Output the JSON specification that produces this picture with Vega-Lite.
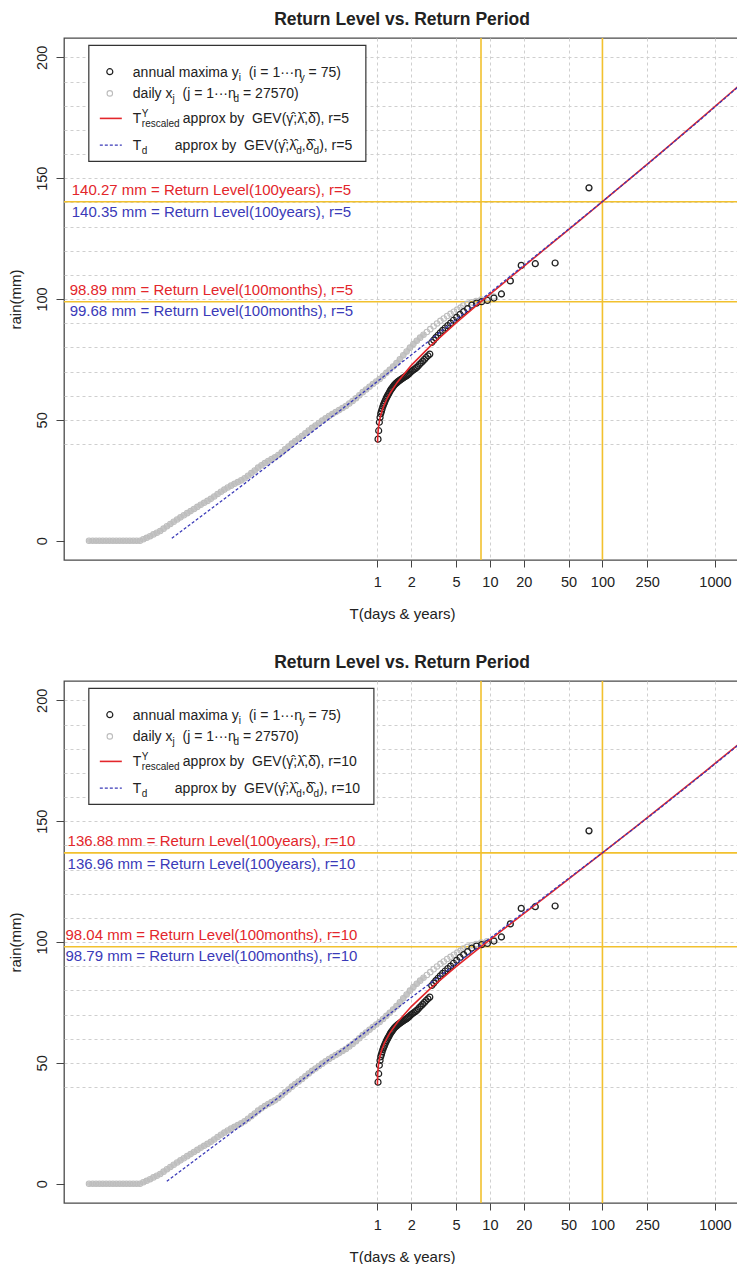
{
  "$schema": "https://vega.github.io/schema/vega-lite/v6.json",
  "background": "white",
  "padding": {"left": 7, "top": 10, "right": 0, "bottom": 0},
  "config": {
    "font": "Liberation Sans",
    "view": {"stroke": "#4a4a4a", "strokeWidth": 1.3},
    "axis": {"labelFont": "Liberation Sans", "titleFont": "Liberation Sans", "labelColor": "#222", "titleColor": "#222", "titleFontWeight": "normal", "domain": false, "tickColor": "#444", "labelFontSize": 14.5, "titleFontSize": 15},
    "title": {"font": "Liberation Sans", "fontSize": 17.5, "fontWeight": "bold", "color": "#222", "anchor": "middle", "frame": "group", "offset": 9, "baseline": "alphabetic"},
    "text": {"font": "Liberation Sans"}
  },
  "datasets": {
    "daily": [
      {"T": 0.002738, "rain": 0}, {"T": 0.002951, "rain": 0}, {"T": 0.003162, "rain": 0}, {"T": 0.003388, "rain": 0},
      {"T": 0.003631, "rain": 0}, {"T": 0.00389, "rain": 0}, {"T": 0.004169, "rain": 0}, {"T": 0.004467, "rain": 0},
      {"T": 0.004786, "rain": 0}, {"T": 0.005129, "rain": 0}, {"T": 0.005495, "rain": 0}, {"T": 0.005888, "rain": 0},
      {"T": 0.00631, "rain": 0}, {"T": 0.006761, "rain": 0}, {"T": 0.007244, "rain": 0}, {"T": 0.007762, "rain": 0},
      {"T": 0.008318, "rain": 0.56}, {"T": 0.008913, "rain": 1.18}, {"T": 0.00955, "rain": 1.86}, {"T": 0.010233, "rain": 2.6},
      {"T": 0.010965, "rain": 3.3}, {"T": 0.011749, "rain": 4.01}, {"T": 0.012589, "rain": 4.98}, {"T": 0.01349, "rain": 5.95},
      {"T": 0.014454, "rain": 6.89}, {"T": 0.015488, "rain": 7.83}, {"T": 0.016596, "rain": 8.77}, {"T": 0.017783, "rain": 9.65},
      {"T": 0.019055, "rain": 10.54}, {"T": 0.020417, "rain": 11.39}, {"T": 0.021878, "rain": 12.24}, {"T": 0.023442, "rain": 13.1},
      {"T": 0.025119, "rain": 13.98}, {"T": 0.026915, "rain": 14.87}, {"T": 0.02884, "rain": 15.66}, {"T": 0.030903, "rain": 16.45},
      {"T": 0.033113, "rain": 17.3}, {"T": 0.035481, "rain": 18.31}, {"T": 0.038019, "rain": 19.33}, {"T": 0.040738, "rain": 20.23},
      {"T": 0.043652, "rain": 21.13}, {"T": 0.046774, "rain": 22.0}, {"T": 0.050119, "rain": 22.76}, {"T": 0.053703, "rain": 23.52},
      {"T": 0.057544, "rain": 24.24}, {"T": 0.06166, "rain": 24.95}, {"T": 0.066069, "rain": 25.84}, {"T": 0.070795, "rain": 26.89},
      {"T": 0.075858, "rain": 27.94}, {"T": 0.081283, "rain": 29.07}, {"T": 0.087096, "rain": 30.21}, {"T": 0.093325, "rain": 31.23},
      {"T": 0.1, "rain": 32.11}, {"T": 0.10715, "rain": 32.98}, {"T": 0.11482, "rain": 33.73}, {"T": 0.12303, "rain": 34.48},
      {"T": 0.13183, "rain": 35.43}, {"T": 0.14125, "rain": 36.61}, {"T": 0.15136, "rain": 37.79}, {"T": 0.16218, "rain": 38.97},
      {"T": 0.17378, "rain": 40.15}, {"T": 0.18621, "rain": 41.24}, {"T": 0.19953, "rain": 42.29}, {"T": 0.2138, "rain": 43.34},
      {"T": 0.22909, "rain": 44.48}, {"T": 0.24547, "rain": 45.62}, {"T": 0.26303, "rain": 46.68}, {"T": 0.28184, "rain": 47.69},
      {"T": 0.302, "rain": 48.7}, {"T": 0.32359, "rain": 49.67}, {"T": 0.34674, "rain": 50.61}, {"T": 0.37154, "rain": 51.56},
      {"T": 0.39811, "rain": 52.4}, {"T": 0.42658, "rain": 53.21}, {"T": 0.45709, "rain": 54.02}, {"T": 0.48978, "rain": 54.88},
      {"T": 0.52481, "rain": 55.74}, {"T": 0.56234, "rain": 56.74}, {"T": 0.60256, "rain": 57.8}, {"T": 0.64565, "rain": 58.92},
      {"T": 0.69183, "rain": 60.19}, {"T": 0.74131, "rain": 61.45}, {"T": 0.79433, "rain": 62.58}, {"T": 0.85114, "rain": 63.71},
      {"T": 0.91201, "rain": 64.81}, {"T": 0.97724, "rain": 65.87}, {"T": 1.0471, "rain": 66.92}, {"T": 1.122, "rain": 68.17},
      {"T": 1.2023, "rain": 69.44}, {"T": 1.2882, "rain": 70.75}, {"T": 1.3804, "rain": 72.1}, {"T": 1.4791, "rain": 73.45},
      {"T": 1.5849, "rain": 75.06}, {"T": 1.6982, "rain": 76.71}, {"T": 1.8197, "rain": 78.31}, {"T": 1.9498, "rain": 79.87},
      {"T": 2.0893, "rain": 81.39}, {"T": 2.2387, "rain": 82.7}, {"T": 2.3988, "rain": 84.01}, {"T": 2.5704, "rain": 85.2},
      {"T": 2.7542, "rain": 86.37}, {"T": 2.9512, "rain": 87.53}, {"T": 3.1623, "rain": 88.71}, {"T": 3.3884, "rain": 89.89},
      {"T": 3.6308, "rain": 90.95}, {"T": 3.8905, "rain": 91.96}, {"T": 4.1687, "rain": 92.97}, {"T": 4.4668, "rain": 93.85},
      {"T": 4.7863, "rain": 94.74}, {"T": 5.1286, "rain": 95.59}, {"T": 5.4954, "rain": 96.44}, {"T": 5.806, "rain": 97.3},
      {"T": 6.29, "rain": 98.0}, {"T": 6.86, "rain": 98.6}, {"T": 7.548, "rain": 99.2}, {"T": 8.387, "rain": 99.8},
      {"T": 9.43, "rain": 100.3}, {"T": 10.78, "rain": 101.0}, {"T": 12.58, "rain": 102.0}, {"T": 15.1, "rain": 107.5},
      {"T": 18.87, "rain": 114.0}, {"T": 25.16, "rain": 114.6}, {"T": 37.74, "rain": 114.9}, {"T": 75.48, "rain": 146.0}
    ],
    "annual": [
      {"T": 76, "rain": 146.0}, {"T": 38, "rain": 114.9}, {"T": 25.333, "rain": 114.6}, {"T": 19, "rain": 113.9},
      {"T": 15.2, "rain": 107.5}, {"T": 12.667, "rain": 102.1}, {"T": 10.857, "rain": 100.4}, {"T": 9.5, "rain": 99.4},
      {"T": 8.444, "rain": 98.9}, {"T": 7.6, "rain": 98.3}, {"T": 6.909, "rain": 97.5}, {"T": 6.333, "rain": 96.0},
      {"T": 5.846, "rain": 94.8}, {"T": 5.429, "rain": 93.6}, {"T": 5.067, "rain": 92.4}, {"T": 4.75, "rain": 91.2},
      {"T": 4.471, "rain": 90.0}, {"T": 4.222, "rain": 89.0}, {"T": 4.0, "rain": 88.0}, {"T": 3.8, "rain": 87.0},
      {"T": 3.619, "rain": 86.0}, {"T": 3.455, "rain": 85.0}, {"T": 3.304, "rain": 84.0}, {"T": 3.167, "rain": 83.0},
      {"T": 3.04, "rain": 82.0}, {"T": 2.923, "rain": 77.2}, {"T": 2.815, "rain": 76.5}, {"T": 2.714, "rain": 75.8},
      {"T": 2.621, "rain": 75.0}, {"T": 2.533, "rain": 74.3}, {"T": 2.452, "rain": 73.6}, {"T": 2.375, "rain": 73.0},
      {"T": 2.303, "rain": 72.3}, {"T": 2.235, "rain": 71.7}, {"T": 2.171, "rain": 71.2}, {"T": 2.111, "rain": 70.8},
      {"T": 2.054, "rain": 70.4}, {"T": 2.0, "rain": 70.0}, {"T": 1.949, "rain": 69.5}, {"T": 1.9, "rain": 69.0},
      {"T": 1.854, "rain": 68.6}, {"T": 1.81, "rain": 68.2}, {"T": 1.767, "rain": 67.9}, {"T": 1.727, "rain": 67.6},
      {"T": 1.689, "rain": 67.3}, {"T": 1.652, "rain": 67.0}, {"T": 1.617, "rain": 66.7}, {"T": 1.583, "rain": 66.4},
      {"T": 1.551, "rain": 66.1}, {"T": 1.52, "rain": 65.8}, {"T": 1.49, "rain": 65.4}, {"T": 1.462, "rain": 65.1},
      {"T": 1.434, "rain": 64.7}, {"T": 1.407, "rain": 64.3}, {"T": 1.382, "rain": 63.8}, {"T": 1.357, "rain": 63.3},
      {"T": 1.333, "rain": 62.8}, {"T": 1.31, "rain": 62.3}, {"T": 1.288, "rain": 61.7}, {"T": 1.267, "rain": 61.0},
      {"T": 1.246, "rain": 60.5}, {"T": 1.226, "rain": 59.8}, {"T": 1.206, "rain": 59.2}, {"T": 1.1875, "rain": 58.5},
      {"T": 1.169, "rain": 57.8}, {"T": 1.152, "rain": 57.0}, {"T": 1.134, "rain": 56.3}, {"T": 1.118, "rain": 55.5},
      {"T": 1.101, "rain": 54.5}, {"T": 1.086, "rain": 53.5}, {"T": 1.07, "rain": 52.5}, {"T": 1.056, "rain": 51.0},
      {"T": 1.041, "rain": 49.0}, {"T": 1.027, "rain": 45.5}, {"T": 1.0133, "rain": 42.0}
    ],
    "redTop": [
      {"T": 1.003, "rain": 40.6}, {"T": 1.01, "rain": 44.0}, {"T": 1.02, "rain": 46.4}, {"T": 1.03, "rain": 47.95},
      {"T": 1.05, "rain": 50.17}, {"T": 1.07, "rain": 51.82}, {"T": 1.1, "rain": 53.73}, {"T": 1.15, "rain": 56.18},
      {"T": 1.2, "rain": 58.11}, {"T": 1.3, "rain": 61.13}, {"T": 1.5, "rain": 65.5}, {"T": 2, "rain": 72.53},
      {"T": 3, "rain": 80.79}, {"T": 5, "rain": 90.11}, {"T": 8.333, "rain": 98.89}, {"T": 12, "rain": 105.02},
      {"T": 20, "rain": 113.51}, {"T": 35, "rain": 122.78}, {"T": 60, "rain": 131.73}, {"T": 100, "rain": 140.27},
      {"T": 200, "rain": 151.96}, {"T": 400, "rain": 163.79}, {"T": 800, "rain": 175.78}, {"T": 1500, "rain": 186.79},
      {"T": 2000, "rain": 191.87}
    ],
    "blueTop": [
      {"T": 0.0149, "rain": 1.0}, {"T": 0.02643, "rain": 9.66}, {"T": 0.07356, "rain": 25.27}, {"T": 0.2047, "rain": 41.05},
      {"T": 0.5695, "rain": 57.01}, {"T": 1.585, "rain": 73.15}, {"T": 4.411, "rain": 89.47}, {"T": 8.333, "rain": 99.68},
      {"T": 12.27, "rain": 105.97}, {"T": 34.15, "rain": 122.65}, {"T": 100, "rain": 140.35}, {"T": 264.4, "rain": 156.6},
      {"T": 735.6, "rain": 174.1}, {"T": 2000, "rain": 191.6}
    ],
    "redBottom": [
      {"T": 1.001, "rain": 40.94}, {"T": 1.003, "rain": 43.32}, {"T": 1.01, "rain": 46.51}, {"T": 1.02, "rain": 48.73},
      {"T": 1.03, "rain": 50.21}, {"T": 1.05, "rain": 52.3}, {"T": 1.07, "rain": 53.84}, {"T": 1.1, "rain": 55.64},
      {"T": 1.15, "rain": 57.93}, {"T": 1.2, "rain": 59.74}, {"T": 1.3, "rain": 62.58}, {"T": 1.5, "rain": 66.69},
      {"T": 2, "rain": 73.29}, {"T": 3, "rain": 81.05}, {"T": 5, "rain": 89.79}, {"T": 8.333, "rain": 98.04},
      {"T": 12, "rain": 103.79}, {"T": 20, "rain": 111.76}, {"T": 35, "rain": 120.47}, {"T": 60, "rain": 128.87},
      {"T": 100, "rain": 136.88}, {"T": 200, "rain": 147.86}, {"T": 400, "rain": 158.97}, {"T": 800, "rain": 170.23},
      {"T": 1500, "rain": 180.56}, {"T": 2000, "rain": 185.34}
    ],
    "blueBottom": [
      {"T": 0.01345, "rain": 1.0}, {"T": 0.02643, "rain": 11.22}, {"T": 0.07356, "rain": 26.73}, {"T": 0.2047, "rain": 42.27},
      {"T": 0.5695, "rain": 57.84}, {"T": 1.585, "rain": 73.45}, {"T": 4.411, "rain": 89.08}, {"T": 8.333, "rain": 98.79},
      {"T": 12.27, "rain": 104.74}, {"T": 34.15, "rain": 120.45}, {"T": 100, "rain": 136.96}, {"T": 264.4, "rain": 152.1},
      {"T": 735.6, "rain": 168.6}, {"T": 2000, "rain": 185.0}
    ],
    "levelsTop": [
      {"T": 100, "red": 140.27, "blue": 140.35, "redLabel": "140.27 mm = Return Level(100years), r=5", "blueLabel": "140.35 mm = Return Level(100years), r=5"},
      {"T": 8.333, "red": 98.89, "blue": 99.68, "redLabel": "98.89 mm = Return Level(100months), r=5", "blueLabel": "99.68 mm = Return Level(100months), r=5"}
    ],
    "levelsBottom": [
      {"T": 100, "red": 136.88, "blue": 136.96, "redLabel": "136.88 mm = Return Level(100years), r=10", "blueLabel": "136.96 mm = Return Level(100years), r=10"},
      {"T": 8.333, "red": 98.04, "blue": 98.79, "redLabel": "98.04 mm = Return Level(100months), r=10", "blueLabel": "98.79 mm = Return Level(100months), r=10"}
    ]
  },
  "spacing": 30,
  "vconcat": [
    {
      "width": 676,
      "height": 522,
      "title": {"text": "Return Level vs. Return Period"},
      "resolve": {"axis": {"y": "independent"}},
      "layer": [
        {
          "data": {"name": "levelsTop"},
          "mark": {"type": "rule", "color": "#f2c12e", "strokeWidth": 1.6},
          "encoding": {"y": {"field": "red", "type": "quantitative", "axis": {"orient": "left", "values": [40, 50, 60, 70, 80, 90, 100, 110, 120, 130, 140, 150, 160, 170, 180, 190, 200], "grid": true, "gridDash": [3, 3], "gridColor": "#cfcfcf", "labels": false, "ticks": false, "domain": false, "title": null}}}
        },
        {
          "layer": [
            {
              "data": {"name": "levelsTop"},
              "mark": {"type": "rule", "color": "#f2c12e", "strokeWidth": 1.6},
              "encoding": {"x": {"field": "T", "type": "quantitative"}}
            },
            {
              "data": {"name": "daily"},
              "transform": [{"filter": "datum.T < 2.6"}],
              "mark": {"type": "line", "color": "#c6c6c6", "strokeWidth": 4.5, "strokeCap": "round", "strokeJoin": "round"},
              "encoding": {"x": {"field": "T", "type": "quantitative"}, "y": {"field": "rain", "type": "quantitative"}}
            },
            {
              "data": {"name": "daily"},
              "mark": {"type": "point", "filled": false, "size": 30, "strokeWidth": 1.1, "color": "#bdbdbd", "opacity": 1},
              "encoding": {
                "x": {
                  "field": "T", "type": "quantitative",
                  "scale": {"type": "log", "domain": [0.001641, 1669], "nice": false},
                  "axis": {"title": "T(days & years)", "values": [1, 2, 5, 10, 20, 50, 100, 250, 1000], "format": "d", "grid": true, "gridDash": [3, 3], "gridColor": "#cfcfcf", "gridWidth": 1, "tickSize": 7, "tickWidth": 1, "labelPadding": 8, "titlePadding": 18, "labelFlush": false, "labelOverlap": false}
                },
                "y": {
                  "field": "rain", "type": "quantitative",
                  "scale": {"domain": [-8, 208], "nice": false, "zero": false},
                  "axis": {"orient": "left", "title": "rain(mm)", "values": [0, 50, 100, 150, 200], "grid": false, "tickSize": 8, "labelAngle": -90, "labelAlign": "center", "labelBaseline": "alphabetic", "labelPadding": 10, "titlePadding": 11, "labelOverlap": false}
                }
              }
            },
            {
              "data": {"name": "annual"},
              "mark": {"type": "point", "filled": false, "size": 36, "strokeWidth": 1.2, "color": "#1e1e1e", "opacity": 1},
              "encoding": {"x": {"field": "T", "type": "quantitative"}, "y": {"field": "rain", "type": "quantitative"}}
            },
            {
              "data": {"name": "redTop"},
              "mark": {"type": "line", "color": "#e3262b", "strokeWidth": 1.6, "clip": true},
              "encoding": {"x": {"field": "T", "type": "quantitative"}, "y": {"field": "rain", "type": "quantitative"}}
            },
            {
              "data": {"name": "blueTop"},
              "mark": {"type": "line", "color": "#3a3ab8", "strokeWidth": 1.3, "strokeDash": [3, 2], "clip": true},
              "encoding": {"x": {"field": "T", "type": "quantitative"}, "y": {"field": "rain", "type": "quantitative"}}
            },
            {
              "data": {"name": "levelsTop"},
              "mark": {"type": "text", "align": "center", "baseline": "middle", "dy": -12, "fontSize": 15, "color": "#e3262b"},
              "encoding": {"x": {"datum": 0.0335}, "y": {"field": "red", "type": "quantitative"}, "text": {"field": "redLabel"}}
            },
            {
              "data": {"name": "levelsTop"},
              "mark": {"type": "text", "align": "center", "baseline": "middle", "dy": 11, "fontSize": 15, "color": "#3a3ab8"},
              "encoding": {"x": {"datum": 0.0335}, "y": {"field": "blue", "type": "quantitative"}, "text": {"field": "blueLabel"}}
            },
            {"data": {"values": [{}]}, "mark": {"type": "rect", "fill": "white", "stroke": "#333", "strokeWidth": 1.2}, "encoding": {"x": {"datum": 0.002727}, "x2": {"datum": 0.79}, "y": {"datum": 204.94}, "y2": {"datum": 156.94}}},
            {"data": {"values": [{}]}, "mark": {"type": "point", "filled": false, "size": 36, "strokeWidth": 1.2, "color": "#1e1e1e", "opacity": 1}, "encoding": {"x": {"datum": 0.00419}, "y": {"datum": 194.06}}},
            {"data": {"values": [{}]}, "mark": {"type": "point", "filled": false, "size": 30, "strokeWidth": 1.1, "color": "#bdbdbd", "opacity": 1}, "encoding": {"x": {"datum": 0.00419}, "y": {"datum": 185.08}}},
            {"data": {"values": [{}]}, "mark": {"type": "rule", "color": "#e3262b", "strokeWidth": 1.6}, "encoding": {"x": {"datum": 0.003415}, "x2": {"datum": 0.005357}, "y": {"datum": 174.73}}},
            {"data": {"values": [{}]}, "mark": {"type": "rule", "color": "#3a3ab8", "strokeWidth": 1.3, "strokeDash": [3, 2]}, "encoding": {"x": {"datum": 0.003415}, "x2": {"datum": 0.005357}, "y": {"datum": 163.68}}},
            {"data": {"values": [{"label": "annual maxima y"}]}, "mark": {"type": "text", "align": "left", "baseline": "alphabetic", "fontSize": 14, "color": "#222"}, "encoding": {"x": {"datum": 0.006708}, "y": {"datum": 191.99}, "text": {"field": "label"}}},
            {"data": {"values": [{"label": "i"}]}, "mark": {"type": "text", "align": "left", "baseline": "alphabetic", "fontSize": 10, "dy": 4, "color": "#222"}, "encoding": {"x": {"datum": 0.0585}, "y": {"datum": 191.99}, "text": {"field": "label"}}},
            {"data": {"values": [{"label": "(i = 1···n"}]}, "mark": {"type": "text", "align": "left", "baseline": "alphabetic", "fontSize": 14, "color": "#222"}, "encoding": {"x": {"datum": 0.07178}, "y": {"datum": 191.99}, "text": {"field": "label"}}},
            {"data": {"values": [{"label": "y"}]}, "mark": {"type": "text", "align": "left", "baseline": "alphabetic", "fontSize": 10, "dy": 4, "color": "#222"}, "encoding": {"x": {"datum": 0.2038}, "y": {"datum": 191.99}, "text": {"field": "label"}}},
            {"data": {"values": [{"label": "= 75)"}]}, "mark": {"type": "text", "align": "left", "baseline": "alphabetic", "fontSize": 14, "color": "#222"}, "encoding": {"x": {"datum": 0.2446}, "y": {"datum": 191.99}, "text": {"field": "label"}}},
            {"data": {"values": [{"label": "daily x"}]}, "mark": {"type": "text", "align": "left", "baseline": "alphabetic", "fontSize": 14, "color": "#222"}, "encoding": {"x": {"datum": 0.006708}, "y": {"datum": 183.01}, "text": {"field": "label"}}},
            {"data": {"values": [{"label": "j"}]}, "mark": {"type": "text", "align": "left", "baseline": "alphabetic", "fontSize": 10, "dy": 4, "color": "#222"}, "encoding": {"x": {"datum": 0.01512}, "y": {"datum": 183.01}, "text": {"field": "label"}}},
            {"data": {"values": [{"label": "(j = 1···n"}]}, "mark": {"type": "text", "align": "left", "baseline": "alphabetic", "fontSize": 14, "color": "#222"}, "encoding": {"x": {"datum": 0.01855}, "y": {"datum": 183.01}, "text": {"field": "label"}}},
            {"data": {"values": [{"label": "d"}]}, "mark": {"type": "text", "align": "left", "baseline": "alphabetic", "fontSize": 10, "dy": 4, "color": "#222"}, "encoding": {"x": {"datum": 0.0527}, "y": {"datum": 183.01}, "text": {"field": "label"}}},
            {"data": {"values": [{"label": "= 27570)"}]}, "mark": {"type": "text", "align": "left", "baseline": "alphabetic", "fontSize": 14, "color": "#222"}, "encoding": {"x": {"datum": 0.064}, "y": {"datum": 183.01}, "text": {"field": "label"}}},
            {"data": {"values": [{"label": "T"}]}, "mark": {"type": "text", "align": "left", "baseline": "alphabetic", "fontSize": 14, "color": "#222"}, "encoding": {"x": {"datum": 0.006708}, "y": {"datum": 172.66}, "text": {"field": "label"}}},
            {"data": {"values": [{"label": "Y"}]}, "mark": {"type": "text", "align": "left", "baseline": "alphabetic", "fontSize": 10, "dy": -6, "color": "#222"}, "encoding": {"x": {"datum": 0.008067}, "y": {"datum": 172.66}, "text": {"field": "label"}}},
            {"data": {"values": [{"label": "rescaled"}]}, "mark": {"type": "text", "align": "left", "baseline": "alphabetic", "fontSize": 10, "dy": 4, "color": "#222"}, "encoding": {"x": {"datum": 0.008067}, "y": {"datum": 172.66}, "text": {"field": "label"}}},
            {"data": {"values": [{"label": "approx by\u00a0 GEV(γ̂;λ̂,δ̂), r=5"}]}, "mark": {"type": "text", "align": "left", "baseline": "alphabetic", "fontSize": 14, "color": "#222"}, "encoding": {"x": {"datum": 0.01867}, "y": {"datum": 172.66}, "text": {"field": "label"}}},
            {"data": {"values": [{"label": "T"}]}, "mark": {"type": "text", "align": "left", "baseline": "alphabetic", "fontSize": 14, "color": "#222"}, "encoding": {"x": {"datum": 0.006708}, "y": {"datum": 161.61}, "text": {"field": "label"}}},
            {"data": {"values": [{"label": "d"}]}, "mark": {"type": "text", "align": "left", "baseline": "alphabetic", "fontSize": 10, "dy": 4, "color": "#222"}, "encoding": {"x": {"datum": 0.008067}, "y": {"datum": 161.61}, "text": {"field": "label"}}},
            {"data": {"values": [{"label": "approx by\u00a0 GEV(γ̂;λ̂"}]}, "mark": {"type": "text", "align": "left", "baseline": "alphabetic", "fontSize": 14, "color": "#222"}, "encoding": {"x": {"datum": 0.01585}, "y": {"datum": 161.61}, "text": {"field": "label"}}},
            {"data": {"values": [{"label": "d"}]}, "mark": {"type": "text", "align": "left", "baseline": "alphabetic", "fontSize": 10, "dy": 4, "color": "#222"}, "encoding": {"x": {"datum": 0.1901}, "y": {"datum": 161.61}, "text": {"field": "label"}}},
            {"data": {"values": [{"label": ",δ̂"}]}, "mark": {"type": "text", "align": "left", "baseline": "alphabetic", "fontSize": 14, "color": "#222"}, "encoding": {"x": {"datum": 0.2132}, "y": {"datum": 161.61}, "text": {"field": "label"}}},
            {"data": {"values": [{"label": "d"}]}, "mark": {"type": "text", "align": "left", "baseline": "alphabetic", "fontSize": 10, "dy": 4, "color": "#222"}, "encoding": {"x": {"datum": 0.271}, "y": {"datum": 161.61}, "text": {"field": "label"}}},
            {"data": {"values": [{"label": "), r=5"}]}, "mark": {"type": "text", "align": "left", "baseline": "alphabetic", "fontSize": 14, "color": "#222"}, "encoding": {"x": {"datum": 0.3039}, "y": {"datum": 161.61}, "text": {"field": "label"}}}
          ]
        }
      ]
    },
    {
      "width": 676,
      "height": 522,
      "title": {"text": "Return Level vs. Return Period"},
      "resolve": {"axis": {"y": "independent"}},
      "layer": [
        {
          "data": {"name": "levelsBottom"},
          "mark": {"type": "rule", "color": "#f2c12e", "strokeWidth": 1.6},
          "encoding": {"y": {"field": "red", "type": "quantitative", "axis": {"orient": "left", "values": [40, 50, 60, 70, 80, 90, 100, 110, 120, 130, 140, 150, 160, 170, 180, 190, 200], "grid": true, "gridDash": [3, 3], "gridColor": "#cfcfcf", "labels": false, "ticks": false, "domain": false, "title": null}}}
        },
        {
          "layer": [
            {
              "data": {"name": "levelsBottom"},
              "mark": {"type": "rule", "color": "#f2c12e", "strokeWidth": 1.6},
              "encoding": {"x": {"field": "T", "type": "quantitative"}}
            },
            {
              "data": {"name": "daily"},
              "transform": [{"filter": "datum.T < 2.6"}],
              "mark": {"type": "line", "color": "#c6c6c6", "strokeWidth": 4.5, "strokeCap": "round", "strokeJoin": "round"},
              "encoding": {"x": {"field": "T", "type": "quantitative"}, "y": {"field": "rain", "type": "quantitative"}}
            },
            {
              "data": {"name": "daily"},
              "mark": {"type": "point", "filled": false, "size": 30, "strokeWidth": 1.1, "color": "#bdbdbd", "opacity": 1},
              "encoding": {
                "x": {
                  "field": "T", "type": "quantitative",
                  "scale": {"type": "log", "domain": [0.001641, 1669], "nice": false},
                  "axis": {"title": "T(days & years)", "values": [1, 2, 5, 10, 20, 50, 100, 250, 1000], "format": "d", "grid": true, "gridDash": [3, 3], "gridColor": "#cfcfcf", "gridWidth": 1, "tickSize": 7, "tickWidth": 1, "labelPadding": 8, "titlePadding": 18, "labelFlush": false, "labelOverlap": false}
                },
                "y": {
                  "field": "rain", "type": "quantitative",
                  "scale": {"domain": [-8, 208], "nice": false, "zero": false},
                  "axis": {"orient": "left", "title": "rain(mm)", "values": [0, 50, 100, 150, 200], "grid": false, "tickSize": 8, "labelAngle": -90, "labelAlign": "center", "labelBaseline": "alphabetic", "labelPadding": 10, "titlePadding": 11, "labelOverlap": false}
                }
              }
            },
            {
              "data": {"name": "annual"},
              "mark": {"type": "point", "filled": false, "size": 36, "strokeWidth": 1.2, "color": "#1e1e1e", "opacity": 1},
              "encoding": {"x": {"field": "T", "type": "quantitative"}, "y": {"field": "rain", "type": "quantitative"}}
            },
            {
              "data": {"name": "redBottom"},
              "mark": {"type": "line", "color": "#e3262b", "strokeWidth": 1.6, "clip": true},
              "encoding": {"x": {"field": "T", "type": "quantitative"}, "y": {"field": "rain", "type": "quantitative"}}
            },
            {
              "data": {"name": "blueBottom"},
              "mark": {"type": "line", "color": "#3a3ab8", "strokeWidth": 1.3, "strokeDash": [3, 2], "clip": true},
              "encoding": {"x": {"field": "T", "type": "quantitative"}, "y": {"field": "rain", "type": "quantitative"}}
            },
            {
              "data": {"name": "levelsBottom"},
              "mark": {"type": "text", "align": "center", "baseline": "middle", "dy": -12, "fontSize": 15, "color": "#e3262b"},
              "encoding": {"x": {"datum": 0.0335}, "y": {"field": "red", "type": "quantitative"}, "text": {"field": "redLabel"}}
            },
            {
              "data": {"name": "levelsBottom"},
              "mark": {"type": "text", "align": "center", "baseline": "middle", "dy": 11, "fontSize": 15, "color": "#3a3ab8"},
              "encoding": {"x": {"datum": 0.0335}, "y": {"field": "blue", "type": "quantitative"}, "text": {"field": "blueLabel"}}
            },
            {"data": {"values": [{}]}, "mark": {"type": "rect", "fill": "white", "stroke": "#333", "strokeWidth": 1.2}, "encoding": {"x": {"datum": 0.002727}, "x2": {"datum": 0.931}, "y": {"datum": 204.94}, "y2": {"datum": 156.94}}},
            {"data": {"values": [{}]}, "mark": {"type": "point", "filled": false, "size": 36, "strokeWidth": 1.2, "color": "#1e1e1e", "opacity": 1}, "encoding": {"x": {"datum": 0.00419}, "y": {"datum": 194.06}}},
            {"data": {"values": [{}]}, "mark": {"type": "point", "filled": false, "size": 30, "strokeWidth": 1.1, "color": "#bdbdbd", "opacity": 1}, "encoding": {"x": {"datum": 0.00419}, "y": {"datum": 185.08}}},
            {"data": {"values": [{}]}, "mark": {"type": "rule", "color": "#e3262b", "strokeWidth": 1.6}, "encoding": {"x": {"datum": 0.003415}, "x2": {"datum": 0.005357}, "y": {"datum": 174.73}}},
            {"data": {"values": [{}]}, "mark": {"type": "rule", "color": "#3a3ab8", "strokeWidth": 1.3, "strokeDash": [3, 2]}, "encoding": {"x": {"datum": 0.003415}, "x2": {"datum": 0.005357}, "y": {"datum": 163.68}}},
            {"data": {"values": [{"label": "annual maxima y"}]}, "mark": {"type": "text", "align": "left", "baseline": "alphabetic", "fontSize": 14, "color": "#222"}, "encoding": {"x": {"datum": 0.006708}, "y": {"datum": 191.99}, "text": {"field": "label"}}},
            {"data": {"values": [{"label": "i"}]}, "mark": {"type": "text", "align": "left", "baseline": "alphabetic", "fontSize": 10, "dy": 4, "color": "#222"}, "encoding": {"x": {"datum": 0.0585}, "y": {"datum": 191.99}, "text": {"field": "label"}}},
            {"data": {"values": [{"label": "(i = 1···n"}]}, "mark": {"type": "text", "align": "left", "baseline": "alphabetic", "fontSize": 14, "color": "#222"}, "encoding": {"x": {"datum": 0.07178}, "y": {"datum": 191.99}, "text": {"field": "label"}}},
            {"data": {"values": [{"label": "y"}]}, "mark": {"type": "text", "align": "left", "baseline": "alphabetic", "fontSize": 10, "dy": 4, "color": "#222"}, "encoding": {"x": {"datum": 0.2038}, "y": {"datum": 191.99}, "text": {"field": "label"}}},
            {"data": {"values": [{"label": "= 75)"}]}, "mark": {"type": "text", "align": "left", "baseline": "alphabetic", "fontSize": 14, "color": "#222"}, "encoding": {"x": {"datum": 0.2446}, "y": {"datum": 191.99}, "text": {"field": "label"}}},
            {"data": {"values": [{"label": "daily x"}]}, "mark": {"type": "text", "align": "left", "baseline": "alphabetic", "fontSize": 14, "color": "#222"}, "encoding": {"x": {"datum": 0.006708}, "y": {"datum": 183.01}, "text": {"field": "label"}}},
            {"data": {"values": [{"label": "j"}]}, "mark": {"type": "text", "align": "left", "baseline": "alphabetic", "fontSize": 10, "dy": 4, "color": "#222"}, "encoding": {"x": {"datum": 0.01512}, "y": {"datum": 183.01}, "text": {"field": "label"}}},
            {"data": {"values": [{"label": "(j = 1···n"}]}, "mark": {"type": "text", "align": "left", "baseline": "alphabetic", "fontSize": 14, "color": "#222"}, "encoding": {"x": {"datum": 0.01855}, "y": {"datum": 183.01}, "text": {"field": "label"}}},
            {"data": {"values": [{"label": "d"}]}, "mark": {"type": "text", "align": "left", "baseline": "alphabetic", "fontSize": 10, "dy": 4, "color": "#222"}, "encoding": {"x": {"datum": 0.0527}, "y": {"datum": 183.01}, "text": {"field": "label"}}},
            {"data": {"values": [{"label": "= 27570)"}]}, "mark": {"type": "text", "align": "left", "baseline": "alphabetic", "fontSize": 14, "color": "#222"}, "encoding": {"x": {"datum": 0.064}, "y": {"datum": 183.01}, "text": {"field": "label"}}},
            {"data": {"values": [{"label": "T"}]}, "mark": {"type": "text", "align": "left", "baseline": "alphabetic", "fontSize": 14, "color": "#222"}, "encoding": {"x": {"datum": 0.006708}, "y": {"datum": 172.66}, "text": {"field": "label"}}},
            {"data": {"values": [{"label": "Y"}]}, "mark": {"type": "text", "align": "left", "baseline": "alphabetic", "fontSize": 10, "dy": -6, "color": "#222"}, "encoding": {"x": {"datum": 0.008067}, "y": {"datum": 172.66}, "text": {"field": "label"}}},
            {"data": {"values": [{"label": "rescaled"}]}, "mark": {"type": "text", "align": "left", "baseline": "alphabetic", "fontSize": 10, "dy": 4, "color": "#222"}, "encoding": {"x": {"datum": 0.008067}, "y": {"datum": 172.66}, "text": {"field": "label"}}},
            {"data": {"values": [{"label": "approx by\u00a0 GEV(γ̂;λ̂,δ̂), r=10"}]}, "mark": {"type": "text", "align": "left", "baseline": "alphabetic", "fontSize": 14, "color": "#222"}, "encoding": {"x": {"datum": 0.01867}, "y": {"datum": 172.66}, "text": {"field": "label"}}},
            {"data": {"values": [{"label": "T"}]}, "mark": {"type": "text", "align": "left", "baseline": "alphabetic", "fontSize": 14, "color": "#222"}, "encoding": {"x": {"datum": 0.006708}, "y": {"datum": 161.61}, "text": {"field": "label"}}},
            {"data": {"values": [{"label": "d"}]}, "mark": {"type": "text", "align": "left", "baseline": "alphabetic", "fontSize": 10, "dy": 4, "color": "#222"}, "encoding": {"x": {"datum": 0.008067}, "y": {"datum": 161.61}, "text": {"field": "label"}}},
            {"data": {"values": [{"label": "approx by\u00a0 GEV(γ̂;λ̂"}]}, "mark": {"type": "text", "align": "left", "baseline": "alphabetic", "fontSize": 14, "color": "#222"}, "encoding": {"x": {"datum": 0.01585}, "y": {"datum": 161.61}, "text": {"field": "label"}}},
            {"data": {"values": [{"label": "d"}]}, "mark": {"type": "text", "align": "left", "baseline": "alphabetic", "fontSize": 10, "dy": 4, "color": "#222"}, "encoding": {"x": {"datum": 0.1901}, "y": {"datum": 161.61}, "text": {"field": "label"}}},
            {"data": {"values": [{"label": ",δ̂"}]}, "mark": {"type": "text", "align": "left", "baseline": "alphabetic", "fontSize": 14, "color": "#222"}, "encoding": {"x": {"datum": 0.2132}, "y": {"datum": 161.61}, "text": {"field": "label"}}},
            {"data": {"values": [{"label": "d"}]}, "mark": {"type": "text", "align": "left", "baseline": "alphabetic", "fontSize": 10, "dy": 4, "color": "#222"}, "encoding": {"x": {"datum": 0.271}, "y": {"datum": 161.61}, "text": {"field": "label"}}},
            {"data": {"values": [{"label": "), r=10"}]}, "mark": {"type": "text", "align": "left", "baseline": "alphabetic", "fontSize": 14, "color": "#222"}, "encoding": {"x": {"datum": 0.3039}, "y": {"datum": 161.61}, "text": {"field": "label"}}}
          ]
        }
      ]
    }
  ]
}
